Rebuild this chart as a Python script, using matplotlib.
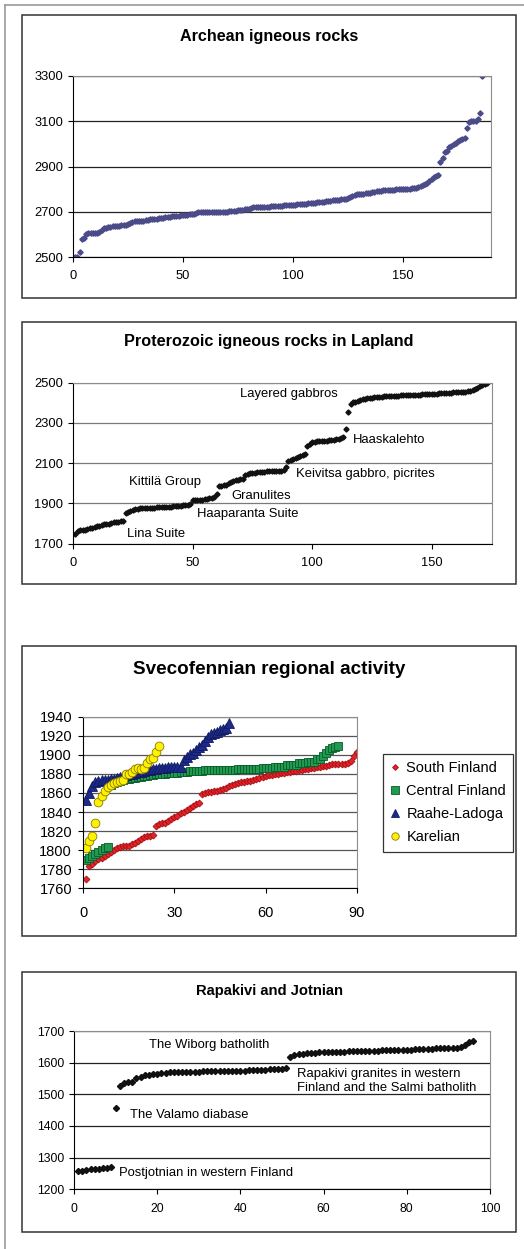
import matplotlib.pyplot as plt
import numpy as np
from matplotlib.patches import Rectangle
from matplotlib.lines import Line2D

plt.rcParams['font.family'] = ['Liberation Sans', 'DejaVu Sans']

# --- data (ages in Ma, sorted) ---
archean = [2500, 2502, 2520, 2578, 2582, 2603, 2605, 2606, 2607, 2607,
           2608, 2612, 2620, 2628, 2630, 2632, 2633, 2635, 2636, 2637,
           2638, 2640, 2640, 2642, 2648, 2652, 2656, 2658, 2658, 2659,
           2660, 2661, 2663, 2665, 2666, 2667, 2668, 2670, 2672, 2673,
           2674, 2676, 2677, 2678, 2680, 2681, 2682, 2683, 2684, 2685,
           2685, 2686, 2688, 2690, 2692, 2694, 2697, 2698, 2700, 2700,
           2700, 2700, 2700, 2700, 2700, 2700, 2700, 2700, 2701, 2701,
           2702, 2702, 2703, 2705, 2706, 2708, 2709, 2710, 2711, 2712,
           2718, 2719, 2720, 2720, 2720, 2721, 2721, 2722, 2722, 2725,
           2725, 2726, 2726, 2727, 2727, 2728, 2728, 2729, 2729, 2730,
           2732, 2733, 2734, 2735, 2736, 2736, 2737, 2738, 2739, 2740,
           2742, 2743, 2744, 2745, 2746, 2747, 2748, 2750, 2752, 2753,
           2754, 2755, 2756, 2758, 2762, 2766, 2770, 2775, 2777, 2778,
           2779, 2780, 2782, 2783, 2785, 2788, 2789, 2790, 2792, 2793,
           2794, 2795, 2797, 2797, 2798, 2798, 2799, 2799, 2800, 2800,
           2801, 2801, 2802, 2803, 2805, 2807, 2810, 2815, 2818, 2822,
           2825, 2834, 2845, 2852, 2858, 2862, 2918, 2936, 2962, 2968,
           2985, 2992, 3000, 3006, 3012, 3016, 3020, 3028, 3070, 3098,
           3100, 3100, 3102, 3110, 3135, 3300]

lapland = [1748, 1762, 1766, 1768, 1770, 1772, 1776, 1780, 1783, 1786,
           1790, 1793, 1796, 1798, 1800, 1803, 1806, 1808, 1810, 1812,
           1814, 1855, 1860, 1864, 1868, 1870, 1872, 1875, 1876, 1876,
           1877, 1877, 1878, 1879, 1880, 1881, 1881, 1882, 1882, 1883,
           1884, 1885, 1886, 1888, 1889, 1890, 1892, 1893, 1895, 1915,
           1916, 1917, 1918, 1919, 1920, 1922, 1926, 1929, 1932, 1948,
           1985, 1988, 1990, 1992, 2000, 2005, 2010, 2015, 2018, 2020,
           2022, 2040, 2045, 2050, 2052, 2053, 2054, 2055, 2056, 2058,
           2059, 2060, 2060, 2061, 2062, 2062, 2063, 2064, 2082, 2110,
           2118, 2123, 2128, 2132, 2136, 2140, 2145, 2185, 2195, 2205,
           2207, 2208, 2209, 2210, 2211, 2212, 2213, 2214, 2215, 2218,
           2221, 2224, 2228, 2268, 2354, 2392, 2402, 2405, 2409, 2412,
           2418, 2420, 2422, 2424, 2425, 2427, 2428, 2430, 2431, 2432,
           2432, 2433, 2434, 2434, 2435, 2436, 2437, 2437, 2438, 2438,
           2439, 2440, 2440, 2441, 2441, 2442, 2443, 2444, 2444, 2445,
           2446, 2446, 2447, 2448, 2449, 2450, 2450, 2451, 2452, 2453,
           2454, 2455, 2456, 2456, 2458, 2461, 2464, 2468, 2475, 2482,
           2488, 2492, 2497]
lapland_labels = ['Layered gabbros', 'Haaskalehto', 'Keivitsa gabbro, picrites',
                  'Kittilä Group', 'Granulites', 'Haaparanta Suite', 'Lina Suite']
lapland_label_x = [70, 117, 93, 23.5, 66, 52, 22.5]
lapland_label_y = [2442, 2215, 2044, 2005, 1937, 1846, 1746]

south_finland = [1770, 1783, 1785, 1789, 1791, 1792, 1794, 1796, 1798, 1800,
                 1802, 1803, 1804, 1804, 1804, 1806, 1808, 1810, 1812, 1814,
                 1815, 1815, 1816, 1825, 1827, 1828, 1829, 1831, 1833, 1835,
                 1836, 1839, 1840, 1842, 1844, 1846, 1848, 1850, 1859, 1860,
                 1861, 1861, 1862, 1862, 1863, 1864, 1865, 1867, 1868, 1869,
                 1870, 1871, 1872, 1873, 1873, 1874, 1875, 1876, 1877, 1878,
                 1879, 1879, 1880, 1880, 1881, 1881, 1882, 1882, 1883, 1883,
                 1884, 1884, 1885, 1885, 1886, 1886, 1887, 1887, 1888, 1888,
                 1889, 1890, 1890, 1890, 1890, 1890, 1891, 1894, 1899, 1903]
central_finland = [1790, 1792, 1794, 1796, 1798, 1800, 1802, 1803, 1868, 1870,
                   1872, 1873, 1874, 1875, 1875, 1876, 1876, 1877, 1877, 1878,
                   1878, 1879, 1879, 1880, 1880, 1880, 1880, 1881, 1881, 1881,
                   1881, 1882, 1882, 1882, 1883, 1883, 1883, 1883, 1883, 1884,
                   1884, 1884, 1884, 1884, 1884, 1884, 1884, 1884, 1884, 1884,
                   1885, 1885, 1885, 1885, 1885, 1885, 1885, 1885, 1886, 1886,
                   1886, 1886, 1887, 1887, 1887, 1887, 1889, 1889, 1889, 1889,
                   1891, 1891, 1891, 1893, 1893, 1893, 1896, 1896, 1899, 1902,
                   1905, 1907, 1908, 1909]
raahe_ladoga = [1853, 1860, 1867, 1871, 1873, 1874, 1874, 1874, 1875, 1875,
                1876, 1877, 1878, 1879, 1880, 1880, 1881, 1882, 1882, 1883,
                1884, 1884, 1885, 1885, 1886, 1886, 1886, 1887, 1887, 1887,
                1887, 1887, 1895, 1898, 1901, 1902, 1905, 1908, 1910, 1915,
                1919, 1922, 1923, 1924, 1926, 1927, 1928, 1933]
karelian = [1802, 1810, 1815, 1829, 1851, 1857, 1862, 1866, 1868, 1870,
            1872, 1873, 1874, 1880, 1880, 1882, 1885, 1886, 1885, 1886,
            1891, 1896, 1897, 1903, 1909]

rapakivi = [1258, 1259, 1262, 1264, 1265, 1265, 1266, 1268, 1270, 1457,
            1527, 1535, 1540, 1540, 1551, 1556, 1560, 1562, 1563, 1565,
            1567, 1568, 1569, 1570, 1570, 1571, 1571, 1572, 1572, 1572,
            1573, 1573, 1573, 1573, 1574, 1574, 1574, 1574, 1574, 1575,
            1575, 1576, 1577, 1577, 1578, 1578, 1579, 1580, 1580, 1581,
            1584, 1617, 1624, 1626, 1628, 1629, 1630, 1632, 1633, 1633,
            1634, 1634, 1635, 1635, 1635, 1636, 1636, 1637, 1637, 1637,
            1638, 1638, 1638, 1639, 1639, 1640, 1640, 1640, 1641, 1641,
            1641, 1642, 1642, 1643, 1643, 1644, 1645, 1645, 1646, 1646,
            1647, 1647, 1648, 1656, 1666, 1667]
rapakivi_labels = ['The Wiborg batholith',
                   'Rapakivi granites in western\nFinland and the Salmi batholith',
                   'The Valamo diabase', 'Postjotnian in western Finland']
rapakivi_label_x = [18, 53.5, 13.5, 10.8]
rapakivi_label_y = [1656, 1543, 1434, 1250]

W, H = 524, 1249
fig = plt.figure(figsize=(W / 100, H / 100), dpi=100)


def add_box(l, t, r, b):
    # pixel box -> figure fraction
    return fig.add_axes([l / W, 1 - b / H, (r - l) / W, (b - t) / H])


def frame(t, b):
    fig.patches.append(Rectangle((22 / W, 1 - b / H), (516 - 22) / W, (b - t) / H,
                                 transform=fig.transFigure, fill=False,
                                 edgecolor='#333333', lw=1.1))


def style(ax, fs, grid_color, xpad, ypad):
    for s in ['top', 'right']:
        ax.spines[s].set_color('#8c8c8c')
    for s in ['left', 'bottom']:
        ax.spines[s].set_color('black')
        ax.spines[s].set_linewidth(0.8)
    ax.yaxis.grid(True, color=grid_color, lw=0.9)
    ax.set_axisbelow(True)
    ax.tick_params(direction='out', length=3.6, width=0.8, labelsize=fs)
    ax.tick_params(axis='x', pad=xpad)
    ax.tick_params(axis='y', pad=ypad)


def title(y, text, fs):
    fig.text(269 / W, 1 - y / H, text, ha='center', va='center',
             fontsize=fs, fontweight='bold')


# outer page lines
fig.add_artist(Line2D([5 / W, 5 / W], [0, 1 - 5 / H], transform=fig.transFigure,
                      color='#9a9a9a', lw=1.2))
fig.add_artist(Line2D([5 / W, 1], [1 - 5 / H, 1 - 5 / H], transform=fig.transFigure,
                      color='#9a9a9a', lw=1.2))

# --- Archean ---
frame(15, 298)
title(36, 'Archean igneous rocks', 11.6)
ax1 = add_box(73, 76, 491, 257)
ax1.plot(np.arange(1, len(archean) + 1), archean, 'D', ms=2.7,
         color='#4b4b8a', mec='#4b4b8a')
ax1.set_xlim(0, 190)
ax1.set_ylim(2500, 3300)
ax1.set_xticks([0, 50, 100, 150])
ax1.set_yticks([2500, 2700, 2900, 3100, 3300])
style(ax1, 9.3, '#222222', 6, 3.5)

# --- Lapland ---
frame(322, 584)
title(341.7, 'Proterozoic igneous rocks in Lapland', 11.7)
ax2 = add_box(73, 382.7, 491.7, 543.7)
ax2.plot(np.arange(1, len(lapland) + 1), lapland, 'D', ms=2.6,
         color='#111111', mec='#111111')
for lab, x, y in zip(lapland_labels, lapland_label_x, lapland_label_y):
    ax2.text(x, y, lab, ha='left', va='center', fontsize=9.4)
ax2.set_xlim(0, 175)
ax2.set_ylim(1700, 2500)
ax2.set_xticks([0, 50, 100, 150])
ax2.set_yticks([1700, 1900, 2100, 2300, 2500])
style(ax2, 9.3, '#7a7a7a', 6, 3.5)

# --- Svecofennian ---
frame(646, 936)
title(669.3, 'Svecofennian regional activity', 13.6)
ax3 = add_box(83.3, 716.7, 356.7, 888.3)
ax3.plot(np.arange(1, len(south_finland) + 1), south_finland, 'D', ms=3.5,
         color='#e8212b', mec='#a01010', mew=0.6, label='South Finland')
ax3.plot(np.arange(1, len(central_finland) + 1), central_finland, 's', ms=6,
         color='#1f9a4f', mec='#0b5a2b', mew=0.6, label='Central Finland')
ax3.plot(np.arange(1, len(raahe_ladoga) + 1), raahe_ladoga, '^', ms=6.5,
         color='#1d2a8c', mec='#101a60', mew=0.6, label='Raahe-Ladoga')
ax3.plot(np.arange(1, len(karelian) + 1), karelian, 'o', ms=6.3,
         color='#fff200', mec='#8a7a00', mew=0.6, label='Karelian')
ax3.set_xlim(0, 90)
ax3.set_ylim(1760, 1940)
ax3.set_xticks([0, 30, 60, 90])
ax3.set_yticks(np.arange(1760, 1941, 20))
style(ax3, 10.5, '#555555', 9, 4.5)
leg = ax3.legend(loc='upper left', bbox_to_anchor=(383 / W, 1 - 754 / H),
                 bbox_transform=fig.transFigure, borderaxespad=0, fontsize=10.5,
                 frameon=True, fancybox=False, edgecolor='black',
                 handlelength=0.6, handletextpad=0.5, labelspacing=0.62,
                 borderpad=0.5, markerscale=0.85)
leg.get_frame().set_linewidth(0.9)

# --- Rapakivi ---
frame(972, 1232)
title(991, 'Rapakivi and Jotnian', 10.6)
ax4 = add_box(74, 1031, 490, 1189.3)
ax4.plot(np.arange(1, len(rapakivi) + 1), rapakivi, 'D', ms=3.1,
         color='#111111', mec='#111111')
for lab, x, y in zip(rapakivi_labels, rapakivi_label_x, rapakivi_label_y):
    ax4.text(x, y, lab, ha='left', va='center', fontsize=9.4, linespacing=1.25)
ax4.set_xlim(0, 100)
ax4.set_ylim(1200, 1700)
ax4.set_xticks([0, 20, 40, 60, 80, 100])
ax4.set_yticks([1200, 1300, 1400, 1500, 1600, 1700])
style(ax4, 8.8, '#222222', 6, 3.5)

fig.savefig('out.png', dpi=100)
